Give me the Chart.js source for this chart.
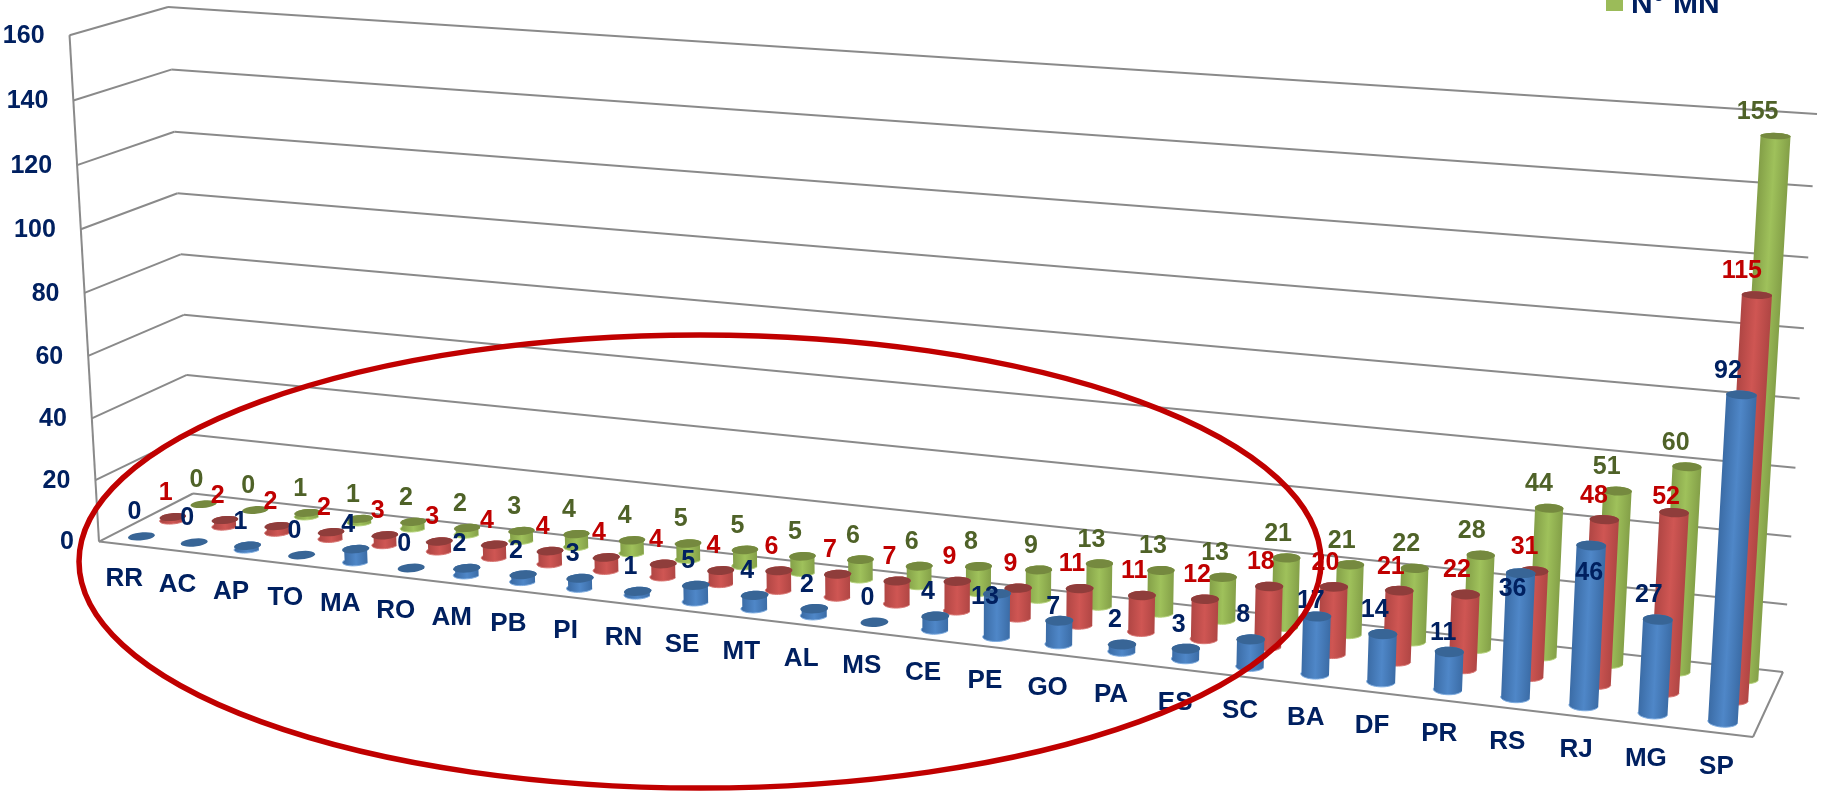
<!DOCTYPE html>
<html lang="pt-BR">
<head>
    <meta charset="UTF-8">
    <title>N° MN por estado</title>
    <style>
        html, body { margin: 0; padding: 0; background: #fff; overflow: hidden; }
        canvas { display: block; }
    </style>
</head>
<body>
    <canvas id="myChart" width="1825" height="793"></canvas>
    <script src="https://cdn.jsdelivr.net/npm/chart.js@4/dist/chart.umd.js"></script>
    <script>
        const categories = ['RR', 'AC', 'AP', 'TO', 'MA', 'RO', 'AM', 'PB', 'PI', 'RN', 'SE', 'MT', 'AL', 'MS',
            'CE', 'PE', 'GO', 'PA', 'ES', 'SC', 'BA', 'DF', 'PR', 'RS', 'RJ', 'MG', 'SP'];
        const blueValues = [0, 0, 1, 0, 4, 0, 2, 2, 3, 1, 5, 4, 2, 0, 4, 13, 7, 2, 3, 8, 17, 14, 11, 36, 46, 27, 92];
        const redValues = [1, 2, 2, 2, 3, 3, 4, 4, 4, 4, 4, 6, 7, 7, 9, 9, 11, 11, 12, 18, 20, 21, 22, 31, 48, 52, 115];
        const greenValues = [0, 0, 1, 1, 2, 2, 3, 4, 4, 5, 5, 5, 6, 6, 8, 9, 13, 13, 13, 21, 21, 22, 28, 44, 51, 60, 155];
        const yTicks = [0, 20, 40, 60, 80, 100, 120, 140, 160];
        const legendLabel = 'N° MN';

        const FONT = '"Liberation Sans", Arial, sans-serif';
        const NAVY = '#002060';
        const GRID = '#8a8a8a';

        // one depth row per series, front to back
        const rows = [
            { z: 1 / 6, edge: '#3b6ca6', mid: '#4f87c8', top: '#386596', rim: '#7dabdf', text: NAVY },
            { z: 3 / 6, edge: '#b04644', mid: '#cf5653', top: '#8f3d3b', rim: '#d87572', text: '#c00000' },
            { z: 5 / 6, edge: '#84a048', mid: '#9fc15b', top: '#75893f', rim: '#b4d27a', text: '#4f6228' }
        ];

        // labels that sit away from the usual spot above the cylinder: [row, category, dx, dy]
        const labelMoves = [
            [0, 'PE', -12, 3], [0, 'GO', -6, -14], [0, 'BA', -6, -15], [0, 'PR', -6, -19],
            [0, 'RS', -8, 16], [0, 'RJ', -2, 28], [1, 'MG', -8, -16]
        ];

        // corners of the box in screen space
        const frontLeft = [99, 541.6], frontRight = [1753, 737], backRight = [1783, 672], backLeft = [193, 493.5];
        const topBackLeft = [168, 7], topBackRight = [1817, 114];

        // perspective matrix: u along the categories, h up the value axis, z into the depth
        function buildCamera() {
            const dx1 = frontRight[0] - backRight[0], dx2 = backLeft[0] - backRight[0];
            const dy1 = frontRight[1] - backRight[1], dy2 = backLeft[1] - backRight[1];
            const sx = frontLeft[0] - frontRight[0] + backRight[0] - backLeft[0];
            const sy = frontLeft[1] - frontRight[1] + backRight[1] - backLeft[1];
            const det = dx1 * dy2 - dx2 * dy1;
            const wu = (sx * dy2 - dx2 * sy) / det;
            const wz = (dx1 * sy - sx * dy1) / det;
            const xu = frontRight[0] - frontLeft[0] + wu * frontRight[0];
            const xz = backLeft[0] - frontLeft[0] + wz * backLeft[0];
            const yu = frontRight[1] - frontLeft[1] + wu * frontRight[1];
            const yz = backLeft[1] - frontLeft[1] + wz * backLeft[1];
            const wL = 1 + wz, wR = 1 + wu + wz;
            const rL = wL * (topBackLeft[0] - backLeft[0]), rR = wR * (topBackRight[0] - backRight[0]);
            const wh = (rL - rR) / (topBackRight[0] - topBackLeft[0]);
            const xh = rL + topBackLeft[0] * wh;
            // vertical stretch differs a little between the two ends of the box
            const yhLeft = wL * (topBackLeft[1] - backLeft[1]) + topBackLeft[1] * wh;
            const yhRight = wR * (topBackRight[1] - backRight[1]) + topBackRight[1] * wh;
            return { xu, xh, xz, yu, yhLeft, yhRight, yz, wu, wh, wz };
        }
        const cam = buildCamera();

        function project(u, h, z) {
            const w = cam.wu * u + cam.wh * h + cam.wz * z + 1;
            const yh = cam.yhLeft + (cam.yhRight - cam.yhLeft) * u;
            return {
                x: (cam.xu * u + cam.xh * h + cam.xz * z + frontLeft[0]) / w,
                y: (cam.yu * u + yh * h + cam.yz * z + frontLeft[1]) / w
            };
        }

        // scale pixels to box coordinates
        const toU = (chart, px) => (px - chart.chartArea.left) / chart.chartArea.width;
        const toH = (chart, py) => (chart.chartArea.bottom - py) / chart.chartArea.height;

        const RADIUS_U = 0.21 / categories.length;
        const RADIUS_Z = 0.08;

        function arcPoints(u, h, z, from, to) {
            const pts = [];
            for (let i = 0; i <= 24; i++) {
                const t = from + (to - from) * i / 24;
                pts.push(project(u + RADIUS_U * Math.cos(t), h, z + RADIUS_Z * Math.sin(t)));
            }
            return pts;
        }

        function tracePath(ctx, pts) {
            pts.forEach((p, i) => i ? ctx.lineTo(p.x, p.y) : ctx.moveTo(p.x, p.y));
        }

        // the bars are drawn as cylinders standing in the box
        Chart.BarElement.prototype.draw = function (ctx) {
            const chart = this.ownerChart;
            const row = rows[this.rowIndex];
            const u = toU(chart, this.x);
            const h0 = toH(chart, this.base);
            const h1 = toH(chart, this.y);

            ctx.save();
            if (h1 > h0) {
                const front = arcPoints(u, h0, row.z, Math.PI, Math.PI * 2);
                const back = arcPoints(u, h1, row.z, 0, Math.PI);
                const a = project(u - RADIUS_U, h0, row.z);
                const b = project(u + RADIUS_U, h0, row.z);
                const base = project(u, h0, row.z), top = project(u, h1, row.z);
                // gradient runs across the cylinder, square to its lean
                let nx = base.y - top.y, ny = top.x - base.x;
                const len = Math.hypot(nx, ny);
                nx /= len; ny /= len;
                const span = (b.x - a.x) * nx + (b.y - a.y) * ny;
                const grad = ctx.createLinearGradient(a.x, a.y, a.x + nx * span, a.y + ny * span);
                grad.addColorStop(0, row.edge);
                grad.addColorStop(0.5, row.mid);
                grad.addColorStop(1, row.edge);
                ctx.beginPath();
                tracePath(ctx, front.concat(back));
                ctx.closePath();
                ctx.fillStyle = grad;
                ctx.fill();
                ctx.beginPath();
                tracePath(ctx, front);
                ctx.strokeStyle = row.rim;
                ctx.lineWidth = 1;
                ctx.stroke();
            }
            ctx.beginPath();
            tracePath(ctx, arcPoints(u, h1, row.z, 0, Math.PI * 2));
            ctx.closePath();
            ctx.fillStyle = row.top;
            ctx.fill();
            ctx.restore();
        };

        const boxPlugin = {
            id: 'box',
            beforeDatasetsDraw(chart) {
                const ctx = chart.ctx;
                const yScale = chart.scales.y;
                const line = (p, q) => {
                    ctx.beginPath();
                    ctx.moveTo(p.x, p.y);
                    ctx.lineTo(q.x, q.y);
                    ctx.stroke();
                };
                // bars need to know their row when they paint themselves
                chart.data.datasets.forEach((ds, d) => {
                    chart.getDatasetMeta(d).data.forEach(bar => {
                        bar.ownerChart = chart;
                        bar.rowIndex = d;
                    });
                });
                ctx.save();
                ctx.strokeStyle = GRID;
                ctx.lineWidth = 2;
                ctx.lineJoin = 'round';
                yScale.ticks.forEach(tick => {
                    const h = toH(chart, yScale.getPixelForValue(tick.value));
                    line(project(0, h, 0), project(0, h, 1));
                    line(project(0, h, 1), project(1, h, 1));
                });
                line(project(0, 0, 0), project(0, 1, 0));
                line(project(0, 0, 0), project(1, 0, 0));
                line(project(1, 0, 0), project(1, 0, 1));

                ctx.fillStyle = NAVY;
                ctx.font = 'bold 25px ' + FONT;
                ctx.textAlign = 'right';
                ctx.textBaseline = 'middle';
                yScale.ticks.forEach(tick => {
                    const h = toH(chart, yScale.getPixelForValue(tick.value));
                    const p = project(0, h, 0);
                    ctx.fillText(tick.label, p.x - 25, p.y + 1);
                });
                ctx.restore();
            },
            afterDatasetsDraw(chart) {
                const ctx = chart.ctx;
                const xScale = chart.scales.x;
                ctx.save();

                // category names along the front edge
                ctx.fillStyle = NAVY;
                ctx.font = 'bold 26px ' + FONT;
                ctx.textAlign = 'center';
                ctx.textBaseline = 'middle';
                categories.forEach((name, i) => {
                    const p = project(toU(chart, xScale.getPixelForValue(i)), 0, 0);
                    ctx.fillText(name, p.x - 1, p.y + 34);
                });

                // value labels
                ctx.font = 'bold 25px ' + FONT;
                [2, 1, 0].forEach(d => {
                    const row = rows[d];
                    const values = chart.data.datasets[d].data;
                    chart.getDatasetMeta(d).data.forEach((bar, i) => {
                        const p = project(toU(chart, bar.x), toH(chart, bar.y), row.z);
                        const moved = labelMoves.find(m => m[0] === d && m[1] === categories[i]);
                        const dx = moved ? moved[2] : -7 - 0.07 * values[i];
                        const dy = moved ? moved[3] : -24;
                        ctx.fillStyle = row.text;
                        ctx.fillText(values[i], p.x + dx, p.y + dy);
                    });
                });

                // legend entry, cut off by the top of the page
                ctx.fillStyle = '#9bbb59';
                ctx.fillRect(1606, -6, 17, 17);
                ctx.fillStyle = NAVY;
                ctx.font = 'bold 30px ' + FONT;
                ctx.textAlign = 'left';
                ctx.textBaseline = 'alphabetic';
                ctx.fillText(legendLabel, 1631, 13);

                // highlight ring around the smaller states
                ctx.beginPath();
                ctx.ellipse(700, 561.5, 621, 226.5, 0, 0, Math.PI * 2);
                ctx.strokeStyle = '#c00000';
                ctx.lineWidth = 5.5;
                ctx.stroke();
                ctx.restore();
            }
        };

        new Chart(document.getElementById('myChart'), {
            type: 'bar',
            data: {
                labels: categories,
                datasets: [
                    { data: blueValues, grouped: false },
                    { data: redValues, grouped: false },
                    { data: greenValues, grouped: false, label: legendLabel }
                ]
            },
            options: {
                responsive: false,
                animation: false,
                events: [],
                layout: { padding: 0 },
                plugins: { legend: { display: false }, tooltip: { enabled: false } },
                scales: {
                    x: { display: false },
                    y: {
                        display: false,
                        min: yTicks[0],
                        max: yTicks[yTicks.length - 1],
                        ticks: { stepSize: yTicks[1] - yTicks[0] }
                    }
                }
            },
            plugins: [boxPlugin]
        });
    </script>
</body>
</html>
